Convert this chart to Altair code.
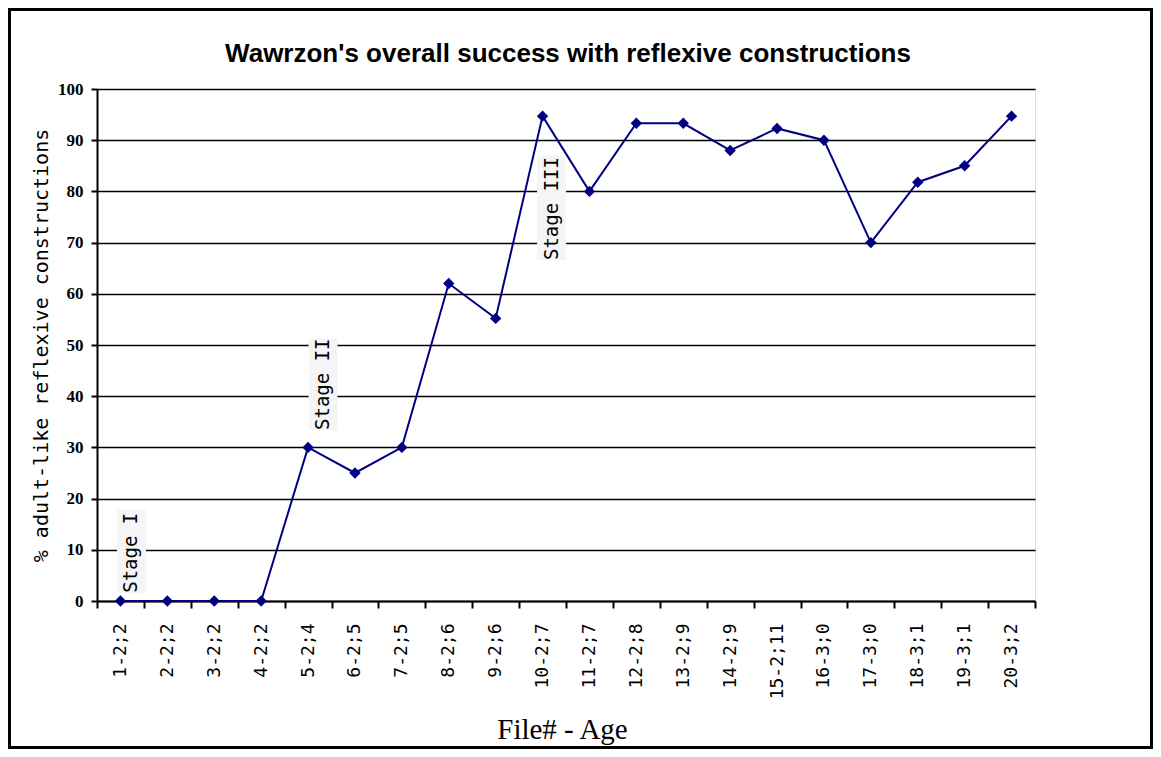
import altair as alt
import pandas as pd

categories = ["1-2;2", "2-2;2", "3-2;2", "4-2;2", "5-2;4", "6-2;5", "7-2;5", "8-2;6", "9-2;6",
              "10-2;7", "11-2;7", "12-2;8", "13-2;9", "14-2;9", "15-2;11", "16-3;0", "17-3;0",
              "18-3;1", "19-3;1", "20-3;2"]
values = [0, 0, 0, 0, 30, 25, 30, 62, 55.2, 94.7, 80, 93.3, 93.3, 88, 92.3, 90, 70, 81.8, 85, 94.7]

stage_labels = ["Stage I", "Stage II", "Stage III"]
stage_cats = ["1-2;2", "5-2;4", "10-2;7"]
stage_start = [1.6, 33.4, 66.6]
stage_end = [17.8, 51.2, 87.0]

title_text = "Wawrzon's overall success with reflexive constructions"

df = pd.DataFrame({"cat": categories, "val": values})

W, H = 938, 512
x_enc = alt.X("cat:N", sort=categories, bandPosition=0.5,
              scale=alt.Scale(type="band", paddingInner=0, paddingOuter=0),
              axis=alt.Axis(title="File# - Age", tickBand="extent", grid=False,
                            labelAngle=270, labelAlign="right", labelBaseline="middle",
                            labelFont="DejaVu Sans Mono", labelFontSize=18, labelColor="black",
                            labelPadding=15, tickSize=7, tickColor="black", tickWidth=2,
                            domainColor="black", domainWidth=2,
                            titleFont="Liberation Serif", titleFontSize=29, titleFontWeight="normal",
                            titleColor="black", titlePadding=17, titleX=W / 2 - 4))
y_enc = alt.Y("val:Q", scale=alt.Scale(domain=[0, 100], nice=False),
              axis=alt.Axis(title="% adult-like reflexive constructions",
                            values=list(range(0, 101, 10)), grid=True, gridColor="black",
                            gridWidth=1.5, labelFont="Liberation Serif", labelFontWeight="bold",
                            labelFontSize=17, labelColor="black", labelPadding=8,
                            tickSize=6, tickColor="black", tickWidth=2,
                            domainColor="black", domainWidth=2,
                            titleFont="DejaVu Sans Mono", titleFontSize=20, titleFontWeight="normal",
                            titleColor="black", titlePadding=6))

base = alt.Chart(df)
line = base.mark_line(color="#000080", strokeWidth=2).encode(x=x_enc, y=y_enc)
pts = base.mark_point(shape="diamond", filled=True, color="#000080", size=130, opacity=1).encode(
    x=alt.X("cat:N", sort=categories, bandPosition=0.5), y="val:Q")

layers = [line]
offsets = [11, 15, 9]
for lab, c, s, e, off in zip(stage_labels, stage_cats, stage_start, stage_end, offsets):
    sdf = pd.DataFrame({"cat": [c], "s": [s], "e": [e], "lab": [lab]})
    sb = alt.Chart(sdf)
    layers.append(sb.mark_bar(width=29, xOffset=off, color="#f5f5f5").encode(
        x=alt.X("cat:N", sort=categories), y="s:Q", y2="e:Q"))
    layers.append(sb.mark_text(angle=270, align="left", baseline="middle", dy=off,
                               font="DejaVu Sans Mono", fontSize=19, color="black").encode(
        x=alt.X("cat:N", sort=categories, bandPosition=0.5), y="s:Q", text="lab:N"))
layers.append(pts)

deco = alt.Chart(pd.DataFrame({"t": [title_text]}))
border = deco.mark_rect(fill=None, stroke="black", strokeWidth=3, clip=False).encode(
    x=alt.value(-87.5), x2=alt.value(1054.5), y=alt.value(-79.5), y2=alt.value(658.5))
title = deco.mark_text(font="Liberation Sans", fontSize=26, fontWeight="bold", color="black",
                       align="center", baseline="alphabetic").encode(
    x=alt.value(W / 2 + 2), y=alt.value(-27), text="t:N")
layers += [border, title]

chart = alt.layer(*layers).properties(
    width=W, height=H,
    autosize=alt.AutoSizeParams(type="none"),
    padding={"left": 89, "top": 81, "right": 118, "bottom": 148},
).configure_view(stroke=None).configure(background="white")

chart.save("out.html", embed_options={"renderer": "svg", "actions": False})
